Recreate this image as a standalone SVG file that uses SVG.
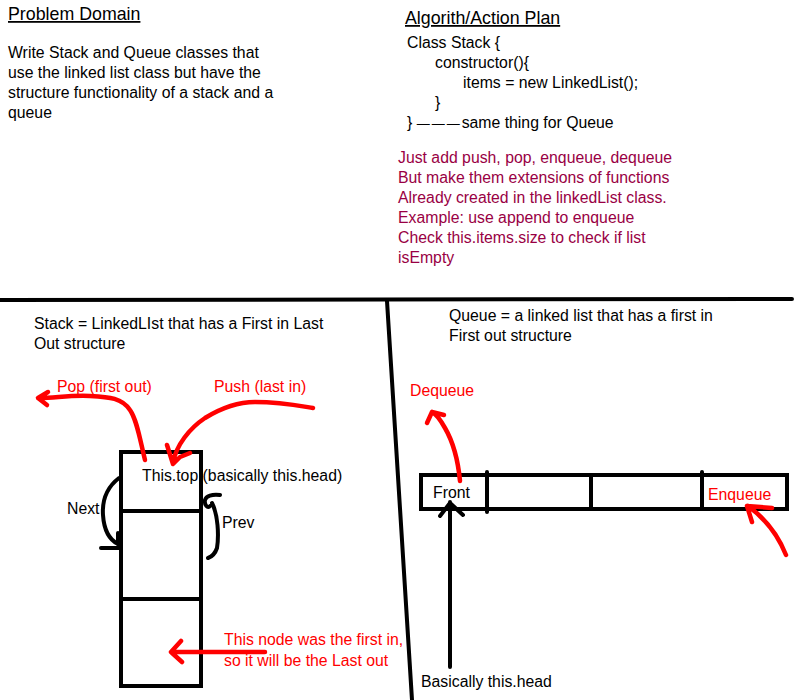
<svg xmlns="http://www.w3.org/2000/svg" width="800" height="700" viewBox="0 0 800 700">
<style>
text{font-family:"Liberation Sans",Arial,sans-serif;font-size:15.8px;fill:#000}
.h{font-size:17.8px;text-decoration:underline}
.p{fill:#990044}
.r{fill:#ff0000}
.bk{fill:none;stroke:#000;stroke-width:4;stroke-linecap:round;stroke-linejoin:round}
.rd{fill:none;stroke:#ff0000;stroke-width:4.5;stroke-linecap:round;stroke-linejoin:round}
</style>
<rect width="800" height="700" fill="#fff"/>
<g id="problem">
<text class="h" x="8" y="20">Problem Domain</text>
<text x="8" y="58">Write Stack and Queue classes that</text>
<text x="8" y="78">use the linked list class but have the</text>
<text x="8" y="98">structure functionality of a stack and a</text>
<text x="8" y="118">queue</text>
</g>
<g id="plan">
<text class="h" x="405" y="24">Algorith/Action Plan</text>
<text x="407" y="48">Class Stack {</text>
<text x="435" y="68">constructor(){</text>
<text x="463" y="88">items = new LinkedList();</text>
<text x="435" y="108">}</text>
<text x="407" y="128">} <tspan font-size="13" letter-spacing="2">———</tspan>same thing for Queue</text>
<text class="p" x="398" y="163">Just add push, pop, enqueue, dequeue</text>
<text class="p" x="398" y="183">But make them extensions of functions</text>
<text class="p" x="398" y="203">Already created in the linkedList class.</text>
<text class="p" x="398" y="223">Example: use append to enqueue</text>
<text class="p" x="398" y="243">Check this.items.size to check if list</text>
<text class="p" x="398" y="263">isEmpty</text>
</g>
<g id="dividers">
<path class="bk" d="M0 300 L792 299"/>
<path class="bk" d="M387 301 L412 700"/>
</g>
<g id="stack">
<text x="34" y="329">Stack = LinkedLIst that has a First in Last</text>
<text x="34" y="349">Out structure</text>
<rect x="121" y="452" width="80" height="234" fill="none" stroke="#000" stroke-width="4"/>
<path class="bk" d="M121 511 H201 M121 599 H201"/>
<text x="142" y="481">This.top (basically this.head)</text>
<text x="67" y="514">Next</text>
<text x="222" y="528">Prev</text>
<text class="r" x="57" y="392">Pop (first out)</text>
<text class="r" x="214" y="392">Push (last in)</text>
<text class="r" x="224" y="645">This node was the first in,</text>
<text class="r" x="224" y="666">so it will be the Last out</text>
</g>
<g id="queue">
<text x="449" y="321">Queue = a linked list that has a first in</text>
<text x="449" y="341">First out structure</text>
<rect x="421" y="475" width="366" height="34" fill="none" stroke="#000" stroke-width="4"/>
<path class="bk" d="M487 472 V512 M591 476 V508 M702 472 V509"/>
<text x="433" y="498">Front</text>
<text class="r" x="708" y="500">Enqueue</text>
<text class="r" x="410" y="396">Dequeue</text>
<text x="421" y="687">Basically this.head</text>
</g>
<g id="connectors">
<path class="bk" d="M119 478 C106 488 102 500 103 515 C104 530 110 540 118 544 M101 548 H119"/>
<path class="bk" d="M118 544 L118 533"/>
<path class="bk" d="M220 495 C212 494 206 496 205 500 C204 505 208 509 210 506 M212 503 C218 515 219 535 217 548 C215 554 211 557 208 558"/>
<path class="bk" d="M450 667 V502 M440 516 L450 503 L463 515"/>
<path class="rd" d="M145 460 C140 440 137 420 130 410 C122 398 110 397 90 396 C70 395 55 398 40 398 M48 392 L38 398 L47 405"/>
<path class="rd" d="M313 408 C295 405 280 402 255 402 C235 402 218 410 205 418 C190 428 176 445 173 463 M167 445 L173 464 L180 457 L190 453"/>
<path class="rd" d="M265 652 H172 M181 641 L171 652 L182 662"/>
<path class="rd" d="M460 481 C458 460 452 440 445 428 C440 419 436 414 432 412 M427 423 L432 412 L444 415"/>
<path class="rd" d="M786 555 C780 540 770 522 748 506 M752 522 L747 506 L772 508"/>
</g>
</svg>
